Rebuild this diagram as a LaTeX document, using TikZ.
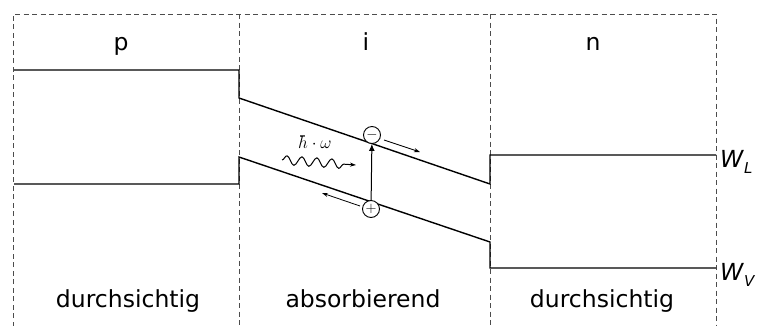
\documentclass[tikz,border=0pt]{standalone}
\usepackage{fontspec}
\setmainfont{DejaVu Sans}
\usetikzlibrary{arrows.meta,decorations.pathmorphing}
\begin{document}
\begin{tikzpicture}[x=1pt,y=-1pt,
  frame/.style={dash pattern=on 5pt off 3.5pt,draw=black!70,line width=1pt},
  band/.style={draw=black,line width=1.4pt},
  lbl/.style={font=\fontsize{23.5}{23.5}\selectfont,inner sep=0pt,anchor=base},
  carrier/.style={circle,draw,line width=0.9pt,minimum size=17pt,inner sep=0pt,font=\fontsize{15}{15}\selectfont},
  drift/.style={line width=0.8pt,-{Stealth[length=6pt,width=4pt]}}]
\useasboundingbox (0,0) rectangle (758,325);
% frame
\draw[frame] (13,335) -- (13,14) -- (716,14) -- (716,335);
\draw[frame] (239,14) -- (239,335);
\draw[frame] (490,14) -- (490,335);
% band corners
\coordinate (c1) at (14,70);
\coordinate (c2) at (239,70);
\coordinate (c3) at (239,98);
\coordinate (c4) at (490,184);
\coordinate (c5) at (490,155);
\coordinate (c6) at (716,155);
\coordinate (v1) at (14,184);
\coordinate (v2) at (239,184);
\coordinate (v3) at (239,157);
\coordinate (v4) at (490,242);
\coordinate (v5) at (490,268);
\coordinate (v6) at (716,268);
\draw[band] (c1) -- (c2) -- (c3) -- (c4) -- (c5) -- (c6);
\draw[band] (v1) -- (v2) -- (v3) -- (v4) -- (v5) -- (v6);
% labels
\node[lbl] (lp) at (121,50) {p};
\node[lbl] (li) at (366,50) {i};
\node[lbl] (ln) at (593,50) {n};
\node[lbl] (d1) at (128,307) {durchsichtig};
\node[lbl] (ab) at (363,307) {absorbierend};
\node[lbl] (d2) at (602,307) {durchsichtig};
\node[lbl,anchor=base west] (wl) at (720,167) {\textit{W}\raisebox{-6pt}{\fontsize{15}{15}\selectfont\textit{L}}};
\node[lbl,anchor=base west] (wv) at (720,280) {\textit{W}\raisebox{-6pt}{\fontsize{15}{15}\selectfont\textit{V}}};
% carriers
\node[carrier,fill=white] (el) at (372,135) {$-$};
\node[carrier,fill=white] (ho) at (371,209) {$+$};
\draw[line width=1pt,-{Latex[length=7pt,width=6pt]}] (ho) -- (el);
\coordinate (ea1) at (384,140);
\coordinate (ea2) at (420,152);
\draw[drift] (ea1) -- (ea2);
\coordinate (ha1) at (360,206);
\coordinate (ha2) at (322,193);
\draw[drift] (ha1) -- (ha2);
% photon
\coordinate (ph1) at (282,160);
\coordinate (ph2) at (356,165);
\draw[line width=1pt,decorate,decoration={snake,amplitude=4.5pt,segment length=15pt,post length=6pt},-{Stealth[length=6pt,width=4pt]}] (ph1) -- (ph2);
\node[inner sep=0pt,font=\fontsize{17}{17}\selectfont] (hw) at (315,142) {$\hbar\cdot\omega$};
\end{tikzpicture}
\end{document}
